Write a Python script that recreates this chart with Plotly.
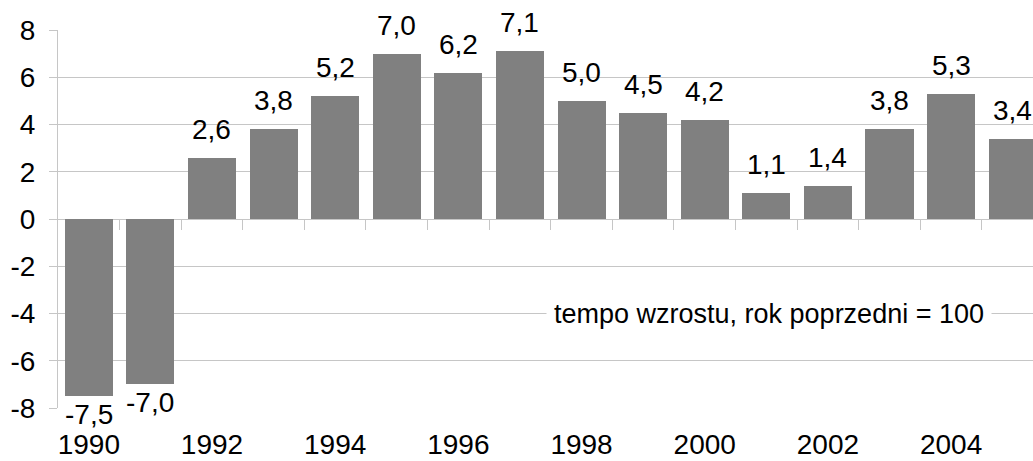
import plotly.graph_objects as go

years = list(range(1990, 2006))
growth = [-7.5, -7.0, 2.6, 3.8, 5.2, 7.0, 6.2, 7.1, 5.0, 4.5, 4.2, 1.1, 1.4, 3.8, 5.3, 3.4]
y_ticks = [-8, -6, -4, -2, 0, 2, 4, 6, 8]
x_ticks = [1990, 1992, 1994, 1996, 1998, 2000, 2002, 2004]
note = "tempo wzrostu, rok poprzedni = 100"

FONT = "Liberation Sans, Arial, sans-serif"
FS = 28
GRID = "#c6c6c6"

fig = go.Figure()
fig.add_trace(go.Bar(
    x=years, y=growth, width=0.78,
    marker=dict(color="#808080", line=dict(width=0)),
    hoverinfo="skip", showlegend=False,
))
# helper trace so that the tick axis at zero is drawn
fig.add_trace(go.Scatter(x=years, y=[None] * len(years), xaxis="x2",
                         mode="markers", showlegend=False, hoverinfo="skip"))

for yr, v in zip(years, growth):
    label = f"{v:.1f}".replace(".", ",")
    if v >= 0:
        fig.add_annotation(x=yr, y=v, text=label, showarrow=False,
                           yanchor="bottom", yshift=11,
                           font=dict(family=FONT, size=FS, color="black"))
    else:
        fig.add_annotation(x=yr, y=v, text=label, showarrow=False,
                           yanchor="top", yshift=-1,
                           font=dict(family=FONT, size=FS, color="black"))

fig.add_annotation(x=2001.05, y=-4, text=note, showarrow=False,
                   xanchor="center", yanchor="middle",
                   bgcolor="white", borderpad=7,
                   font=dict(family=FONT, size=27, color="black"))

fig.update_layout(
    width=1033, height=461,
    margin=dict(l=58, r=0, t=30, b=53, autoexpand=False),
    plot_bgcolor="white", paper_bgcolor="white",
    font=dict(family=FONT, size=FS, color="black"),
    bargap=0,
    hovermode=False,
    xaxis=dict(
        range=[1989.5, 2005.33],
        tickmode="array", tickvals=x_ticks, ticktext=[str(t) for t in x_ticks],
        showgrid=False, zeroline=False, showline=False,
        ticks="", ticklabelstandoff=17,
        tickfont=dict(family=FONT, size=FS, color="black"),
    ),
    xaxis2=dict(
        overlaying="x", anchor="free", position=0.5,
        range=[1989.5, 2005.33],
        tickmode="array", tickvals=[y + 0.5 for y in years[:-1]],
        ticks="outside", ticklen=10, tickcolor=GRID, tickwidth=1,
        showticklabels=False, showgrid=False, zeroline=False, showline=False,
    ),
    yaxis=dict(
        range=[-8, 8],
        tickmode="array", tickvals=y_ticks,
        ticktext=[str(t) for t in y_ticks],
        showgrid=True, gridcolor=GRID, gridwidth=1,
        zeroline=False,
        showline=True, linecolor=GRID, linewidth=1,
        ticks="outside", ticklen=8, tickcolor=GRID, tickwidth=1,
        ticklabelstandoff=8,
        tickfont=dict(family=FONT, size=FS, color="black"),
    ),
)

fig.write_html(
    "out.html",
    config={"displayModeBar": False, "staticPlot": True},
    post_script=(
        "document.body.style.margin='0';"
        "document.body.style.overflow='hidden';"
        "document.documentElement.style.overflow='hidden';"
    ),
)
